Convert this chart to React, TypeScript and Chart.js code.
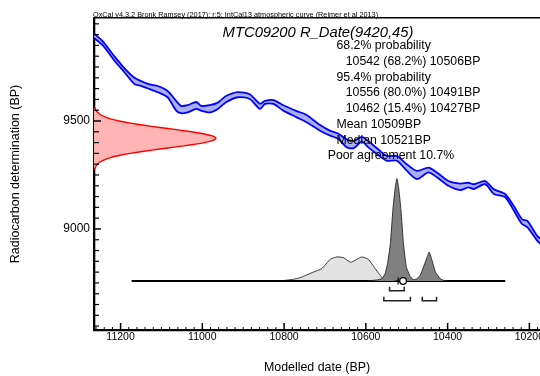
import { useEffect, useRef } from "react";
import { Chart, registerables } from "chart.js";

Chart.register(...registerables);

const FONT = '"Liberation Sans", Arial, Helvetica, sans-serif';

// ---------------- data ----------------
// IntCal13 calibration curve: cal BP, upper and lower 1-sigma edges (14C BP)
const curveCalBP = [11268, 11244, 11215, 11191, 11166, 11150, 11129, 11109, 11085, 11064, 11052, 11036, 11015, 11003, 10982, 10962, 10942, 10913, 10884, 10859, 10847, 10826, 10802, 10769, 10745, 10712, 10687, 10667, 10647, 10630, 10610, 10594, 10573, 10549, 10524, 10500, 10475, 10447, 10426, 10398, 10369, 10349, 10336, 10308, 10287, 10259, 10238, 10218, 10205, 10181, 10173];
const curveUpper = [9910, 9870, 9799, 9745, 9700, 9685, 9670, 9662, 9639, 9593, 9570, 9573, 9588, 9570, 9573, 9585, 9616, 9634, 9624, 9580, 9593, 9597, 9573, 9546, 9528, 9481, 9454, 9441, 9415, 9407, 9426, 9407, 9374, 9338, 9338, 9300, 9269, 9284, 9261, 9222, 9210, 9214, 9207, 9222, 9184, 9161, 9106, 9045, 9037, 8968, 8954];
const curveLower = [9889, 9851, 9779, 9727, 9671, 9663, 9648, 9633, 9610, 9548, 9536, 9540, 9556, 9548, 9540, 9556, 9587, 9610, 9602, 9556, 9579, 9579, 9548, 9517, 9494, 9455, 9432, 9417, 9378, 9374, 9404, 9378, 9347, 9316, 9316, 9270, 9231, 9262, 9239, 9200, 9180, 9193, 9185, 9208, 9162, 9147, 9085, 9023, 9008, 8946, 8931];

// Radiocarbon measurement R_Date(9420,45): 14C BP and relative probability
const measC14 = [9280, 9290, 9300, 9310, 9320, 9330, 9340, 9350, 9360, 9370, 9380, 9390, 9400, 9410, 9420, 9430, 9440, 9450, 9460, 9470, 9480, 9490, 9500, 9510, 9520, 9530, 9540, 9550, 9560];
const measProb = [0.008, 0.015, 0.029, 0.05, 0.085, 0.135, 0.206, 0.298, 0.411, 0.539, 0.674, 0.801, 0.906, 0.976, 1.0, 0.976, 0.906, 0.801, 0.674, 0.539, 0.411, 0.298, 0.206, 0.135, 0.085, 0.05, 0.029, 0.015, 0.008];

// Calibrated likelihood (light grey)
const likeCalBP = [10810, 10777, 10761, 10728, 10708, 10687, 10671, 10655, 10637, 10610, 10594, 10577, 10565, 10557, 10548];
const likeProb = [0, 0.017, 0.032, 0.088, 0.12, 0.212, 0.235, 0.228, 0.183, 0.235, 0.212, 0.12, 0.056, 0.017, 0];

// Modelled posterior (dark grey)
const postCalBP = [10598, 10573, 10561, 10553, 10547, 10540, 10534, 10528, 10524, 10520, 10514, 10508, 10501, 10491, 10483, 10475, 10467, 10459, 10450, 10445, 10438, 10430, 10418, 10410, 10401];
const postProb = [0, 0.01, 0.022, 0.071, 0.169, 0.365, 0.691, 0.919, 1.0, 0.919, 0.691, 0.365, 0.137, 0.039, 0.013, 0.022, 0.056, 0.137, 0.235, 0.283, 0.202, 0.088, 0.022, 0.007, 0];

const range68 = [[10542, 10506]];
const range95 = [[10556, 10491], [10462, 10427]];
const meanBP = 10509;
const medianBP = 10521;
const spanBP = [11173, 10259];

const headerText = "OxCal v4.3.2 Bronk Ramsey (2017); r:5; IntCal13 atmospheric curve (Reimer et al 2013)";
const titleText = "MTC09200 R_Date(9420,45)";
const statsLines = ["68.2% probability", "10542 (68.2%) 10506BP", "95.4% probability", "10556 (80.0%) 10491BP", "10462 (15.4%) 10427BP", "Mean 10509BP", "Median 10521BP", "Poor agreement 10.7%"];
const statsIndent = [1, 2, 1, 2, 2, 1, 1, 0];

const xMajor = 200;
const xMinor = 20;
const yMajor = 500;
const yMinor = 50;

// ---------------- layout constants ----------------
const X_LEFT = 11265;
const X_RIGHT = 10174;
const Y_MIN = 8532;
const Y_MAX = 9977;
const YD_MIN = -0.4785;
const YD_MAX = 2.568;
const X2_MAX = 3.656;
const B68 = { level: -0.095, tip: -0.056 };
const B95 = { level: -0.192, tip: -0.153 };

const innerTicks = {
  id: "innerTicks",
  afterDatasetsDraw(chart: any) {
    const { ctx, chartArea, scales } = chart;
    ctx.save();
    ctx.strokeStyle = "#000";
    const xs = scales.x;
    xs.ticks.forEach((t: any) => {
      const px = xs.getPixelForValue(t.value);
      const major = Math.round(t.value) % xMajor === 0;
      ctx.lineWidth = major ? 1.5 : 1;
      ctx.beginPath();
      ctx.moveTo(px, chartArea.bottom);
      ctx.lineTo(px, chartArea.bottom - (major ? 7 : 3));
      ctx.stroke();
    });
    const ys = scales.y;
    ys.ticks.forEach((t: any) => {
      const py = ys.getPixelForValue(t.value);
      const major = Math.round(t.value) % yMajor === 0;
      ctx.lineWidth = major ? 1.5 : 1.2;
      ctx.beginPath();
      ctx.moveTo(chartArea.left, py);
      ctx.lineTo(chartArea.left + (major ? 7 : 5), py);
      ctx.stroke();
    });
    ctx.restore();
  },
};

const annotate = {
  id: "annotate",
  afterDraw(chart: any) {
    const ctx = chart.ctx;
    ctx.save();
    ctx.fillStyle = "#000";
    ctx.textBaseline = "middle";
    ctx.textAlign = "left";
    ctx.font = `7.3px ${FONT}`;
    ctx.fillText(headerText, 93, 14.5);
    ctx.font = `italic 14.8px ${FONT}`;
    ctx.textAlign = "center";
    ctx.fillText(titleText, 318, 32.5);
    ctx.font = `12.3px ${FONT}`;
    ctx.textAlign = "left";
    const indentX = [327.7, 336.5, 345.7];
    statsLines.forEach((line, i) => {
      ctx.fillText(line, indentX[statsIndent[i]], 45.8 + i * 15.72);
    });
    ctx.restore();
  },
};

export default function App() {
  const ref = useRef<HTMLCanvasElement>(null);

  useEffect(() => {
    document.body.style.margin = "0";
    const canvas = ref.current!;

    const upper = curveCalBP.map((x, i) => ({ x, y: curveUpper[i] }));
    const lower = curveCalBP.map((x, i) => ({ x, y: curveLower[i] }));
    const meas = [
      { x: 0, y: measC14[0] },
      ...measC14.map((y, i) => ({ x: measProb[i], y })),
      { x: 0, y: measC14[measC14.length - 1] },
    ];
    const like = likeCalBP.map((x, i) => ({ x, y: likeProb[i] }));
    const post = postCalBP.map((x, i) => ({ x, y: postProb[i] }));

    const bracket = (r: number[], b: { level: number; tip: number }) => ({
      data: [
        { x: r[0], y: b.tip },
        { x: r[0], y: b.level },
        { x: r[1], y: b.level },
        { x: r[1], y: b.tip },
      ],
      xAxisID: "x",
      yAxisID: "yd",
      borderColor: "#222",
      borderWidth: 1.5,
      pointRadius: 0,
      fill: false,
      tension: 0,
      order: 5,
    });

    const datasets: any[] = [
      {
        label: "curve upper",
        data: upper,
        xAxisID: "x",
        yAxisID: "y",
        borderColor: "#0000ff",
        borderWidth: 1.8,
        pointRadius: 0,
        tension: 0.25,
        fill: false,
        order: 10,
      },
      {
        label: "curve lower",
        data: lower,
        xAxisID: "x",
        yAxisID: "y",
        borderColor: "#0000ff",
        borderWidth: 1.8,
        backgroundColor: "#aab0ff",
        pointRadius: 0,
        tension: 0.25,
        fill: 0,
        order: 10,
      },
      {
        label: "measurement",
        data: meas,
        xAxisID: "x2",
        yAxisID: "y",
        borderColor: "#ff0000",
        borderWidth: 1.4,
        backgroundColor: "#ffb4b4",
        pointRadius: 0,
        tension: 0.2,
        fill: "shape",
        order: 9,
      },
      {
        label: "likelihood",
        data: like,
        xAxisID: "x",
        yAxisID: "yd",
        borderColor: "#111",
        borderWidth: 0.8,
        backgroundColor: "#e2e2e2",
        pointRadius: 0,
        tension: 0.15,
        fill: "origin",
        order: 8,
      },
      {
        label: "span",
        data: spanBP.map((x) => ({ x, y: 0 })),
        xAxisID: "x",
        yAxisID: "yd",
        borderColor: "#000",
        borderWidth: 2,
        pointRadius: 0,
        fill: false,
        order: 7,
      },
      {
        label: "posterior",
        data: post,
        xAxisID: "x",
        yAxisID: "yd",
        borderColor: "#111",
        borderWidth: 0.8,
        backgroundColor: "#808080",
        pointRadius: 0,
        tension: 0.1,
        fill: "origin",
        order: 6,
      },
      ...range68.map((r) => bracket(r, B68)),
      ...range95.map((r) => bracket(r, B95)),
      {
        label: "median",
        data: [{ x: medianBP, y: 0 }],
        xAxisID: "x",
        yAxisID: "yd",
        showLine: false,
        pointStyle: "cross",
        pointRadius: 3.5,
        borderColor: "#000",
        borderWidth: 1.2,
        order: 4,
      },
      {
        label: "mean",
        data: [{ x: meanBP, y: 0 }],
        xAxisID: "x",
        yAxisID: "yd",
        showLine: false,
        pointStyle: "circle",
        pointRadius: 3.3,
        borderColor: "#000",
        backgroundColor: "#fff",
        borderWidth: 1.2,
        order: 3,
      },
    ];

    const chart = new Chart(canvas, {
      type: "line",
      data: { datasets },
      options: {
        responsive: false,
        animation: false,
        devicePixelRatio: 1,
        layout: { autoPadding: false, padding: { top: 18, left: 0, right: 0, bottom: 0 } },
        plugins: {
          legend: { display: false },
          tooltip: { enabled: false },
          title: { display: false },
        },
        scales: {
          x: {
            type: "linear",
            axis: "x",
            position: "bottom",
            reverse: true,
            min: X_RIGHT,
            max: X_LEFT,
            z: 1,
            afterFit(s: any) {
              s.height = 46;
              s.paddingLeft = 0;
              s.paddingRight = 0;
            },
            ticks: {
              stepSize: xMinor,
              autoSkip: false,
              includeBounds: false,
              maxRotation: 0,
              minRotation: 0,
              padding: 1,
              color: "#000",
              font: { family: FONT, size: 10.5 },
              callback: (v: any) => (Math.round(v) % xMajor === 0 ? String(v) : ""),
            },
            grid: { display: false, drawTicks: false },
            border: { display: true, color: "#000", width: 2.3 },
            title: {
              display: true,
              text: "Modelled date (BP)",
              color: "#000",
              font: { family: FONT, size: 12.4 },
              padding: { top: 0, bottom: 1 },
            },
          },
          x2: {
            type: "linear",
            axis: "x",
            position: "top",
            min: 0,
            max: X2_MAX,
            z: 1,
            afterFit(s: any) {
              s.height = 0;
              s.paddingLeft = 0;
              s.paddingRight = 0;
            },
            ticks: { display: false },
            grid: { display: false, drawTicks: false },
            border: { display: true, color: "#000", width: 1.6 },
          },
          y: {
            type: "linear",
            axis: "y",
            position: "left",
            min: Y_MIN,
            max: Y_MAX,
            z: 1,
            afterFit(s: any) {
              s.width = 94;
            },
            ticks: {
              stepSize: yMinor,
              autoSkip: false,
              includeBounds: false,
              padding: 4,
              color: "#000",
              font: { family: FONT, size: 12 },
              callback: (v: any) => (Math.round(v) % yMajor === 0 ? String(v) : ""),
            },
            grid: { display: false, drawTicks: false },
            border: { display: true, color: "#000", width: 2.3 },
            title: {
              display: true,
              text: "Radiocarbon determination (BP)",
              color: "#000",
              font: { family: FONT, size: 12.5 },
              padding: { top: 8.5, bottom: 0 },
            },
          },
          yd: {
            type: "linear",
            axis: "y",
            display: false,
            min: YD_MIN,
            max: YD_MAX,
          },
        },
      } as any,
      plugins: [innerTicks, annotate],
    });

    return () => chart.destroy();
  }, []);

  return (
    <div style={{ position: "absolute", left: 0, top: 0, width: 540, height: 376 }}>
      <canvas ref={ref} width={540} height={376} style={{ display: "block", width: 540, height: 376 }} />
    </div>
  );
}
